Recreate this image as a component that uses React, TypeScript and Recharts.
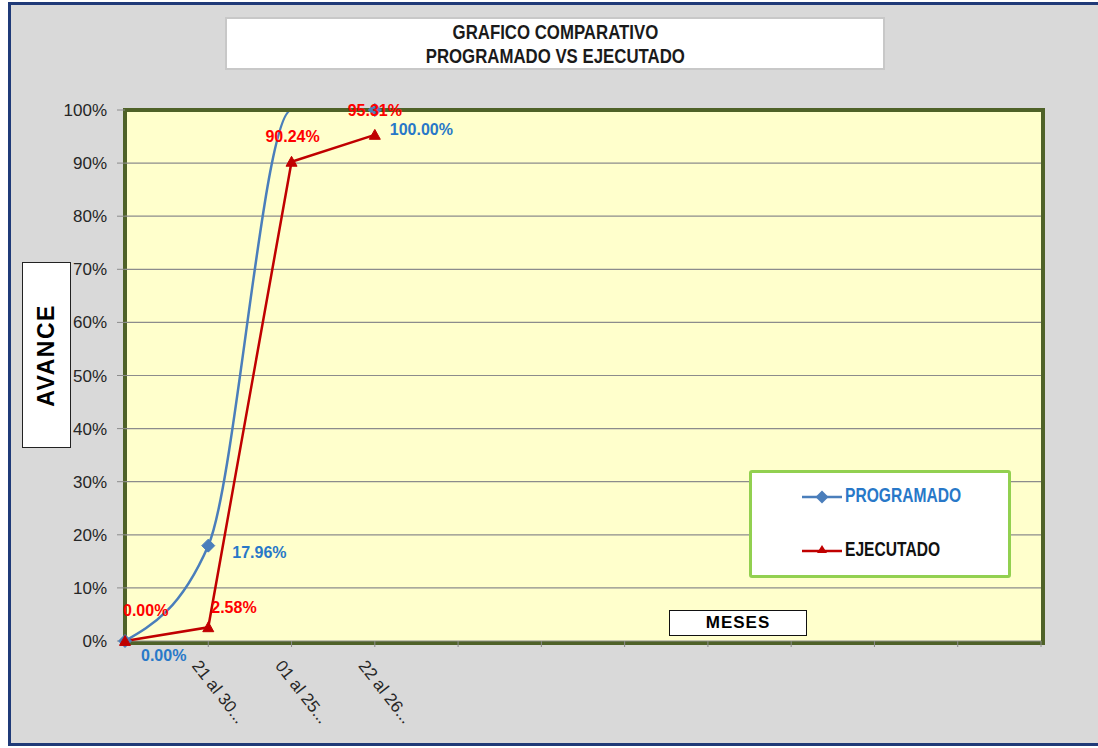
import { CartesianGrid, LabelList, Line, LineChart, ReferenceLine, XAxis, YAxis } from 'recharts'

const meses = ['', '21 al 30...', '01 al 25...', '22 al 26...', '', '', '', '', '', '', '', '']
const programado = [0, 17.96, 100, 100]
const ejecutado = [0, 2.58, 90.24, 95.31]
const yTicks = [0, 10, 20, 30, 40, 50, 60, 70, 80, 90, 100]

const data = meses.map((mes, i) => ({
  mes,
  programado: programado[i],
  ejecutado: ejecutado[i],
}))

const SANS = "'Liberation Sans', Arial, sans-serif"
const BLUE = '#4A7EBB'
const BLUE_TXT = '#2878C8'
const RED = '#C00000'
const RED_TXT = '#FF0000'
const OLIVE = '#4F6228'

// label offsets from each point [dx, dy, anchor]
const progLabelPos: [number, number, string][] = [[16, 20, 'start'], [24, 12, 'start'], [0, 0, 'none'], [15, 25, 'start']]
const ejecLabelPos: [number, number, string][] = [[-2, -25, 'start'], [3, -14, 'start'], [1, -20, 'middle'], [0, -19, 'middle']]

function pct(v: number) {
  return v.toFixed(2) + '%'
}

function makeLabel(pos: [number, number, string][], color: string) {
  return (p: any) => {
    const o = pos[p.index]
    if (!o || o[2] === 'none' || p.value == null) return null
    return (
      <text x={p.x + o[0]} y={p.y + o[1]} textAnchor={o[2] as any} fill={color}
        fontFamily={SANS} fontWeight="bold" fontSize={16}>
        {pct(Number(p.value))}
      </text>
    )
  }
}

function Diamond(p: any) {
  if (p.cx == null || p.cy == null || p.index === 2) return <g key={'d' + p.index} />
  const s = 6.5
  return (
    <path key={'d' + p.index} d={`M${p.cx},${p.cy - s}L${p.cx + s},${p.cy}L${p.cx},${p.cy + s}L${p.cx - s},${p.cy}Z`}
      fill={BLUE} stroke={BLUE} />
  )
}

function Triangle(p: any) {
  if (p.cx == null || p.cy == null) return <g key={'t' + p.index} />
  const s = 5.5
  return (
    <path key={'t' + p.index} d={`M${p.cx},${p.cy - s}L${p.cx + s},${p.cy + s * 0.8}L${p.cx - s},${p.cy + s * 0.8}Z`}
      fill={RED} stroke={RED} />
  )
}

function MesTick(p: any) {
  const { x, y, payload } = p
  return (
    <g transform={`translate(${x - 17},${y + 17})`}>
      <text transform="rotate(52)" textAnchor="start" fill="#262626" fontFamily={SANS} fontSize={17}>
        {payload.value}
      </text>
    </g>
  )
}

function Narrow({ children, size, color, scale, origin }: any) {
  return (
    <div style={{
      fontFamily: SANS, fontWeight: 'bold', fontSize: size, color, whiteSpace: 'nowrap',
      transform: `scaleX(${scale})`, transformOrigin: origin,
    }}>
      {children}
    </div>
  )
}

export default function App() {
  return (
    <div style={{ position: 'absolute', left: 0, top: 0, width: 1098, height: 748, overflow: 'hidden', background: '#fff' }}>
      <div style={{ position: 'absolute', left: 8, top: 2, width: 1200, height: 738, background: '#D9D9D9', border: '3px solid #1F3A78' }} />
      <div style={{
        position: 'absolute', left: 225, top: 17, width: 656, height: 49, background: '#fff', border: '2px solid #C8C8C8',
        display: 'flex', flexDirection: 'column', alignItems: 'center', justifyContent: 'center', lineHeight: '24px',
      }}>
        <Narrow size={20} color="#1a1a1a" scale={0.84} origin="center">GRAFICO COMPARATIVO</Narrow>
        <Narrow size={20} color="#1a1a1a" scale={0.84} origin="center">PROGRAMADO VS EJECUTADO</Narrow>
      </div>
      <div style={{
        position: 'absolute', left: 22, top: 262, width: 47, height: 184, background: '#fff', border: '1px solid #222',
        display: 'flex', alignItems: 'center', justifyContent: 'center',
      }}>
        <div style={{ transform: 'rotate(-90deg)', fontFamily: SANS, fontWeight: 'bold', fontSize: 23, letterSpacing: 1.5, color: '#000', whiteSpace: 'nowrap' }}>
          AVANCE
        </div>
      </div>
      <div style={{ position: 'absolute', left: 123, top: 108, width: 914, height: 529, background: '#FFFFCC', border: `4px solid ${OLIVE}` }} />
      <div style={{ position: 'absolute', left: 0, top: 0 }}>
        <LineChart width={1098} height={748} data={data} margin={{ top: 110, right: 57, bottom: 27, left: 65 }}>
          <CartesianGrid vertical={false} stroke="#8C8C8C" strokeWidth={1.2} />
          <XAxis dataKey="mes" axisLine={false} tickLine={{ stroke: '#8C8C8C' }} tickSize={6} height={80}
            interval={0} tick={<MesTick />} />
          <YAxis domain={[0, 100]} ticks={yTicks} width={60} axisLine={false} tickLine={{ stroke: '#8C8C8C' }}
            tickSize={8} tickMargin={10} tickFormatter={(v: number) => v + '%'}
            tick={{ fill: '#262626', fontFamily: SANS, fontSize: 17 }} />
          <Line dataKey="programado" type="monotone" stroke={BLUE} strokeWidth={2.5} dot={Diamond} activeDot={false}
            isAnimationActive={false}>
            <LabelList dataKey="programado" content={makeLabel(progLabelPos, BLUE_TXT)} />
          </Line>
          <ReferenceLine y={100} stroke={OLIVE} strokeWidth={4} />
          <Line dataKey="ejecutado" type="linear" stroke={RED} strokeWidth={2.5} dot={Triangle} activeDot={false}
            isAnimationActive={false}>
            <LabelList dataKey="ejecutado" content={makeLabel(ejecLabelPos, RED_TXT)} />
          </Line>
        </LineChart>
      </div>
      <div style={{ position: 'absolute', left: 749, top: 470, width: 256, height: 102, background: '#fff', border: '3px solid #92D050', borderRadius: 3 }}>
        <svg width={60} height={100} style={{ position: 'absolute', left: 46, top: 0 }}>
          <line x1={4} y1={24} x2={44} y2={24} stroke={BLUE} strokeWidth={2.5} />
          <path d="M24,17.5L30.5,24L24,30.5L17.5,24Z" fill={BLUE} />
          <line x1={4} y1={78} x2={44} y2={78} stroke={RED} strokeWidth={2.5} />
          <path d="M24,72L29,80L19,80Z" fill={RED} />
        </svg>
        <div style={{ position: 'absolute', left: 93, top: 11 }}>
          <Narrow size={19.5} color={BLUE_TXT} scale={0.8} origin="left">PROGRAMADO</Narrow>
        </div>
        <div style={{ position: 'absolute', left: 93, top: 65 }}>
          <Narrow size={19.5} color="#111" scale={0.8} origin="left">EJECUTADO</Narrow>
        </div>
      </div>
      <div style={{
        position: 'absolute', left: 669, top: 610, width: 136, height: 24, background: '#fff', border: '1.5px solid #111',
        display: 'flex', alignItems: 'center', justifyContent: 'center',
        fontFamily: SANS, fontWeight: 'bold', fontSize: 17, letterSpacing: 1, color: '#000',
      }}>
        MESES
      </div>
    </div>
  )
}
